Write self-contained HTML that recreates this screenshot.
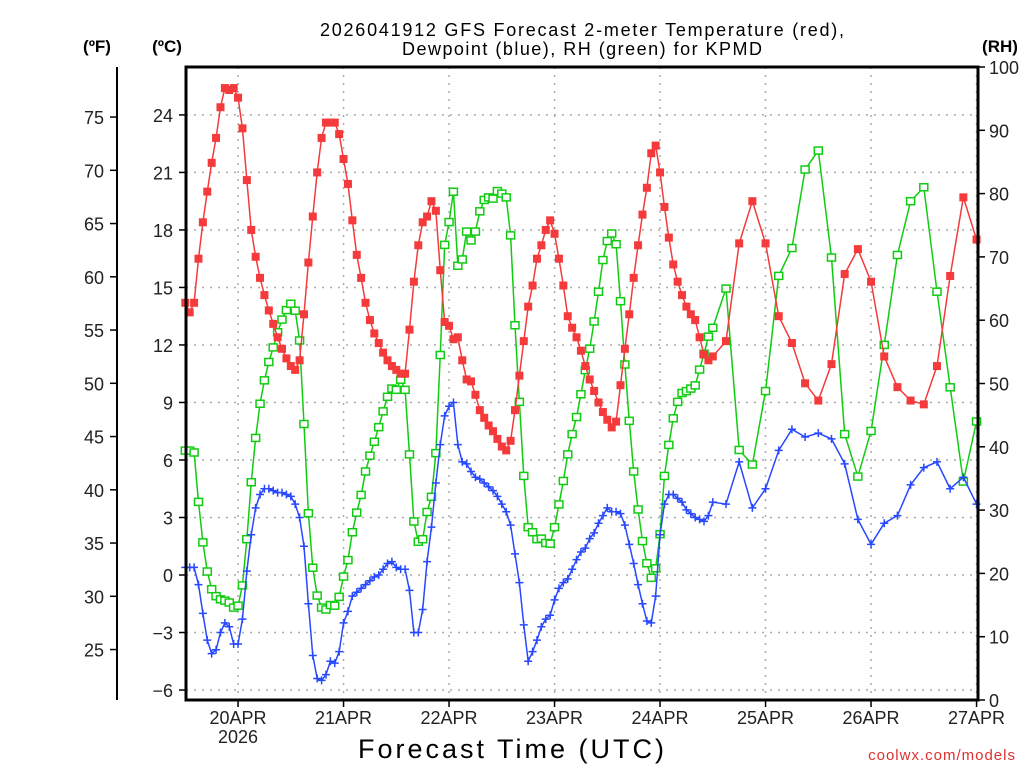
<!DOCTYPE html>
<html><head><meta charset="utf-8"><style>
html,body{margin:0;padding:0;background:#fff;}
svg{display:block;font-family:"Liberation Sans",sans-serif;}
</style></head><body>
<svg id="chart" width="1024" height="768" viewBox="0 0 1024 768" xmlns="http://www.w3.org/2000/svg">
<text x="582" y="36" font-size="18" text-anchor="middle" fill="#000" textLength="524" lengthAdjust="spacing">2026041912 GFS Forecast 2-meter Temperature (red),</text>
<text x="582" y="55" font-size="18" text-anchor="middle" fill="#000" textLength="360" lengthAdjust="spacing">Dewpoint (blue), RH (green) for KPMD</text>
<text x="97" y="52" font-size="17" font-weight="bold" text-anchor="middle">(ºF)</text>
<text x="167" y="52" font-size="17" font-weight="bold" text-anchor="middle">(ºC)</text>
<text x="1000" y="52" font-size="17" font-weight="bold" text-anchor="middle">(RH)</text>
<text x="511" y="758" font-size="27" text-anchor="middle" textLength="306" lengthAdjust="spacing">Forecast Time (UTC)</text>
<text x="1016" y="760" font-size="15" text-anchor="end" fill="#e03030" letter-spacing="1">coolwx.com/models</text>
<g id="grid"></g>
<g id="axes"></g>
<g id="series"></g>
<rect x="186" y="67" width="792" height="633" fill="none" stroke="#000" stroke-width="3"/>
</svg>
<script>
const tempC = [14.2,13.7,14.2,16.5,18.4,20.0,21.5,22.8,24.4,25.4,25.3,25.4,24.9,23.3,20.6,18.0,16.6,15.5,14.6,13.8,13.1,12.4,11.8,11.3,10.9,10.7,11.2,13.6,16.3,18.7,21.0,22.8,23.6,23.6,23.6,23.0,21.7,20.4,18.5,16.7,15.5,14.2,13.3,12.6,12.1,11.6,11.2,10.9,10.7,10.5,10.5,12.8,15.3,17.2,18.4,18.7,19.5,19.0,15.9,13.2,13.0,12.3,
12.4,11.2,10.2,10.1,9.4,8.6,8.2,7.8,7.5,7.1,6.7,6.5,7.0,8.6,10.4,12.2,14.0,15.1,16.5,17.2,18.0,18.5,17.8,16.5,15.1,13.5,12.9,12.4,11.7,10.9,10.2,9.6,9.0,8.5,8.1,7.7,8.0,9.9,11.8,13.6,15.5,17.2,18.8,20.2,22.0,22.4,21.0,19.2,17.6,16.2,15.3,14.6,14.0,13.6,13.3,12.4,11.5,11.2,11.4,
12.2,17.3,19.5,17.3,13.5,12.1,10.0,9.1,11.0,15.7,17.0,15.3,11.4,9.8,9.1,8.9,10.9,15.6,19.7,17.5];
const dewC = [0.4,0.4,0.4,-0.5,-2.0,-3.4,-4.1,-3.9,-3.0,-2.5,-2.7,-3.6,-3.6,-2.3,0.2,2.1,3.5,4.2,4.5,4.5,4.4,4.3,4.3,4.2,4.1,3.7,3.0,1.5,-1.5,-4.2,-5.4,-5.5,-5.2,-4.5,-4.6,-4.0,-2.5,-1.9,-1.1,-0.9,-0.7,-0.5,-0.3,-0.1,0.0,0.3,0.6,0.7,0.4,0.3,0.3,-0.8,-3.0,-3.0,-1.8,0.7,2.5,4.8,6.8,8.3,8.8,9.0,
6.8,5.9,5.8,5.4,5.1,5.0,4.8,4.6,4.4,4.1,3.7,3.3,2.6,1.1,-0.4,-2.6,-4.5,-4.0,-3.4,-2.7,-2.3,-2.1,-1.3,-0.7,-0.4,-0.2,0.3,0.8,1.2,1.4,1.9,2.2,2.7,3.1,3.5,3.3,3.3,3.2,2.6,1.6,0.6,-0.5,-1.5,-2.4,-2.5,-1.1,2.1,3.7,4.2,4.2,4.0,3.8,3.4,3.2,3.0,2.9,2.8,3.1,3.8,
3.7,5.9,3.5,4.5,6.5,7.6,7.2,7.4,7.1,5.8,2.9,1.6,2.7,3.1,4.7,5.6,5.9,4.5,5.1,3.7,5.2];
const rh = [39.4,39.4,39.1,31.3,24.9,20.3,17.5,16.4,15.9,15.7,15.4,14.6,14.9,18.1,25.4,34.4,41.4,46.8,50.5,53.4,55.7,58.1,60.1,61.6,62.6,61.5,56.8,43.6,29.5,20.9,16.5,14.6,14.3,15,14.9,16.3,19.5,22.1,26.5,29.6,32.4,36.1,38.6,40.8,43.1,45.6,47.9,49.2,49,50.6,49,38.8,28.2,25,25.4,29.7,32.1,39,54.5,71.9,75.5,80.3,68.6,69.6,74,72.6,74,77.2,79,79.4,79.2,80.4,80,79.4,73.4,59.2,47.1,35.4,27.3,26.5,25.4,25.5,24.8,24.7,27.3,30.9,34.6,38.8,42,44.7,48.3,52.1,55.5,59.8,64.5,69.5,72.5,73.7,72,63,53,44.1,36.1,30.1,25.1,21.6,19.3,20.8,26.2,35.4,40.3,44.5,47.1,48.5,48.8,49.2,49.7,52.2,54.7,57.4,58.8,
65,39.5,37.2,48.8,67,71.4,83.8,86.8,69.9,42,35.3,42.5,56.1,70.3,78.8,81,64.5,49.4,34.5,44];
const tailHours = [123,126,129,132,135,138,141,144,147,150,153,156,159,162,165,168,171,174,177,180];
const dayLabels = ["20APR","21APR","22APR","23APR","24APR","25APR","26APR","27APR"];
const celsiusTicks = [-6,-3,0,3,6,9,12,15,18,21,24];
const fahrenheitTicks = [25,30,35,40,45,50,55,60,65,70,75];
const rhTicks = [0,10,20,30,40,50,60,70,80,90,100];

const hours = [];
for (let h = 0; h <= 120; h++) hours.push(h);
tailHours.forEach(h => hours.push(h));

const NS = "http://www.w3.org/2000/svg";
const X0 = 185.3, PXH = 105.5/24;
const xs = h => X0 + h * PXH;
const yC = c => 575 - c * 19.17;
const yF = f => yC((f - 32) * 5 / 9);
const yR = r => 700 - r * 6.33;
function mk(tag, attrs, parent) {
  const e = document.createElementNS(NS, tag);
  for (const k in attrs) e.setAttribute(k, attrs[k]);
  parent.appendChild(e);
  return e;
}
const grid = document.getElementById('grid');
const axes = document.getElementById('axes');
const series = document.getElementById('series');

celsiusTicks.forEach(c => {
  const y = yC(c);
  const g = mk('line', {x1:186, x2:978, y1:y, y2:y, stroke:'#aaa', 'stroke-dasharray':'2,6', 'stroke-width':1.5}, grid);
  
  
  const t = mk('line', {x1:179, x2:186, y1:y, y2:y, stroke:'#000', 'stroke-width':1.5}, axes);
  
  
  const l = mk('text', {x:173, y:y+7, 'font-size':18, 'text-anchor':'end', fill:'#222'}, axes);
  l.textContent = c < 0 ? '\u2212' + Math.abs(c) : String(c);
  
  
});
const fl = mk('line', {x1:117, x2:117, y1:67, y2:700, stroke:'#000', 'stroke-width':2}, axes);


fahrenheitTicks.forEach(f => {
  const y = yF(f);
  const t = mk('line', {x1:110, x2:117, y1:y, y2:y, stroke:'#000', 'stroke-width':1.5}, axes);
  
  
  const l = mk('text', {x:104, y:y+7, 'font-size':18, 'text-anchor':'end', fill:'#222'}, axes);
  l.textContent = String(f);
  
  
});
rhTicks.forEach(r => {
  const y = yR(r);
  const t = mk('line', {x1:978, x2:985, y1:y, y2:y, stroke:'#000', 'stroke-width':1.5}, axes);
  
  
  const l = mk('text', {x:989, y:y+7, 'font-size':18, fill:'#222'}, axes);
  l.textContent = String(r);
  
  
});
dayLabels.forEach((d, i) => {
  const x = xs(12 + 24 * i);
  const g = mk('line', {x1:x, x2:x, y1:67, y2:700, stroke:'#aaa', 'stroke-dasharray':'2,6', 'stroke-width':1.5}, grid);
  
  
  const t = mk('line', {x1:x, x2:x, y1:700, y2:707, stroke:'#000', 'stroke-width':1.5}, axes);
  
  
  const l = mk('text', {x:x, y:724, 'font-size':18, 'text-anchor':'middle', fill:'#222'}, axes);
  l.textContent = d;
  
  
  if (i === 0) {
    const yl = mk('text', {x:x, y:743, 'font-size':18, 'text-anchor':'middle', fill:'#222'}, axes);
    yl.textContent = '2026';
    
    
  }
});

function drawSeries(vals, yf, color, name, marker) {
  const pts = vals.map((v, i) => [xs(hours[i]), yf(v)]);
  const p = mk('polyline', {points: pts.map(q => q.join(',')).join(' '), fill:'none', stroke:color, 'stroke-width':1.5}, series);
  
  
  pts.forEach(q => {
    let m;
    if (marker === 'fill') {
      m = mk('rect', {x:q[0]-4, y:q[1]-4, width:8, height:8, fill:color}, series);
    } else if (marker === 'open') {
      m = mk('rect', {x:q[0]-4, y:q[1]-3.5, width:8, height:7, fill:'#fff', stroke:color, 'stroke-width':1.5}, series);
    } else {
      m = mk('path', {d:`M${q[0]-4},${q[1]}H${q[0]+4}M${q[0]},${q[1]-4}V${q[1]+4}`, stroke:color, 'stroke-width':1.5}, series);
    }
    
    
  });
}
drawSeries(rh, yR, '#10cc10', 'rh', 'open');
drawSeries(dewC, yC, '#2848ff', 'dewpoint', 'plus');
drawSeries(tempC, yC, '#f43a3a', 'temperature', 'fill');
</script>
</body></html>
